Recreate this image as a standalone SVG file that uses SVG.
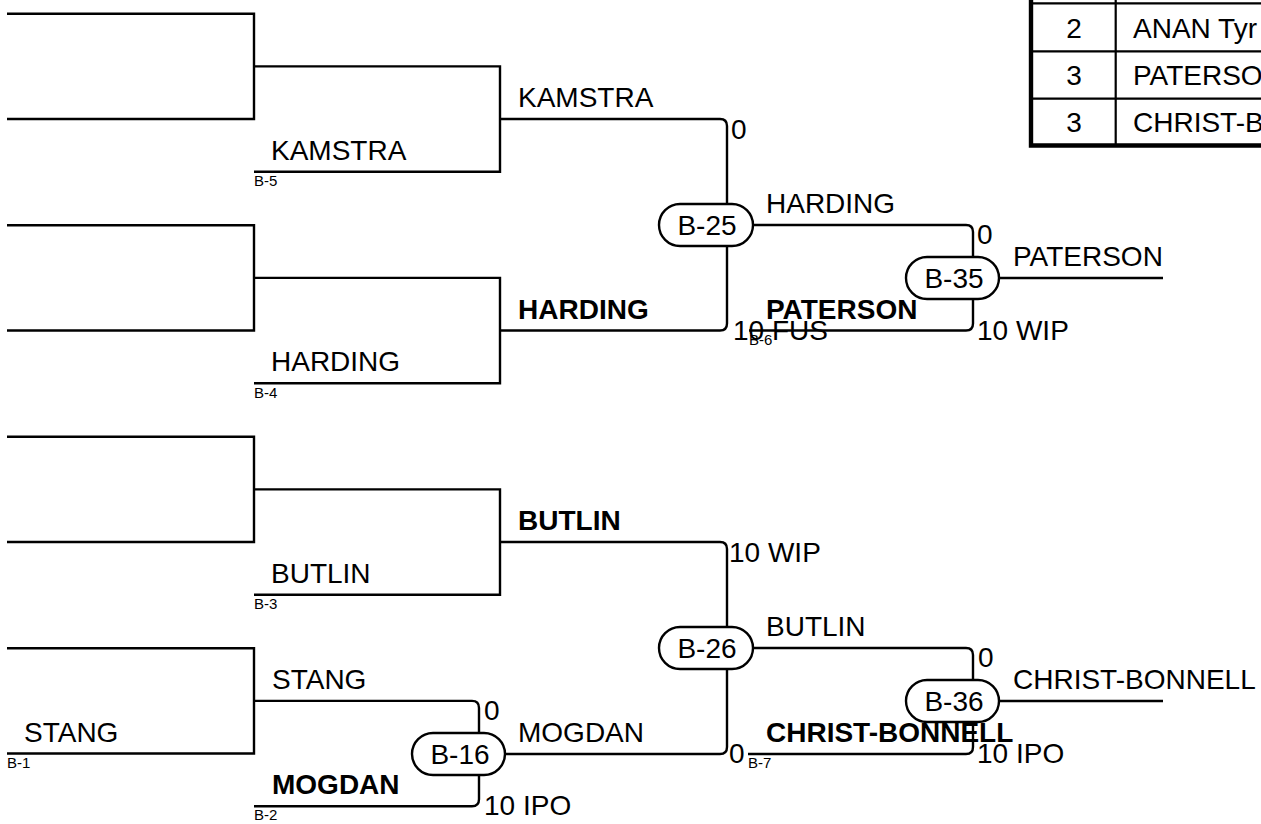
<svg xmlns="http://www.w3.org/2000/svg" width="1261" height="824" viewBox="0 0 1261 824">
<style>
.ln{fill:none;stroke:#000;stroke-width:2.4}
.box{fill:#fff;stroke:#000;stroke-width:2.4}
text{font-family:"Liberation Sans",Arial,sans-serif;fill:#000}
.t{font-size:28px}
.b{font-size:28px;font-weight:bold}
.s{font-size:15px}
.bx{font-size:28px;text-anchor:middle}
.tb{fill:none;stroke:#000;stroke-width:2.2}
.tk{fill:none;stroke:#000;stroke-width:4.4}
</style>
<rect width="1261" height="824" fill="#fff"/>
<g id="connectors">
  <path class="ln" d="M7,13.7 H254 V119 H7 M254,66.4 H500 V171.7 H254"/>
  <path class="ln" d="M7,225.2 H254 V330.5 H7 M254,277.9 H500 V383.2 H254"/>
  <path class="ln" d="M7,436.7 H254 V542 H7 M254,489.4 H500 V594.7 H254"/>
  <path class="ln" d="M7,648.2 H254 V753.5 H7"/>
  <path class="ln" d="M254,700.9 H472 Q479,700.9 479,707.9 V733"/>
  <path class="ln" d="M479,775 V799.2 Q479,806.2 472,806.2 H254"/>
  <path class="ln" d="M505,754 H720 Q727,754 727,747 V669"/>
  <path class="ln" d="M500,119 H720 Q727,119 727,126 V204"/>
  <path class="ln" d="M727,246 V323.5 Q727,330.5 720,330.5 H500"/>
  <path class="ln" d="M500,542 H720 Q727,542 727,549 V627"/>
  <path class="ln" d="M753,225 H966 Q973,225 973,232 V257"/>
  <path class="ln" d="M973,299 V323.5 Q973,330.5 966,330.5 H749"/>
  <path class="ln" d="M999,278 H1163"/>
  <path class="ln" d="M753,648 H966 Q973,648 973,655 V680"/>
  <path class="ln" d="M973,722 V747 Q973,754 966,754 H748"/>
  <path class="ln" d="M999,701 H1163"/>
</g>
<g id="B-16"><rect class="box" x="412" y="733" width="93" height="42" rx="21"/><text class="bx" x="460" y="764">B-16</text></g>
<g id="B-25"><rect class="box" x="659" y="204" width="94" height="42" rx="21"/><text class="bx" x="707" y="235">B-25</text></g>
<g id="B-26"><rect class="box" x="659" y="627" width="94" height="42" rx="21"/><text class="bx" x="707" y="658">B-26</text></g>
<g id="B-35"><rect class="box" x="906" y="257" width="93" height="42" rx="21"/><text class="bx" x="954" y="288">B-35</text></g>
<g id="B-36"><rect class="box" x="906" y="680" width="93" height="42" rx="21"/><text class="bx" x="954" y="711">B-36</text></g>
<g id="names">
  <text class="t" x="271" y="160">KAMSTRA</text>
  <text class="t" x="271" y="371">HARDING</text>
  <text class="t" x="271" y="583">BUTLIN</text>
  <text class="t" x="24" y="742">STANG</text>
  <text class="t" x="272" y="689">STANG</text>
  <text class="b" x="272" y="794">MOGDAN</text>
  <text class="t" x="518" y="107">KAMSTRA</text>
  <text class="b" x="518" y="319">HARDING</text>
  <text class="b" x="518" y="530">BUTLIN</text>
  <text class="t" x="518" y="742">MOGDAN</text>
  <text class="t" x="766" y="213">HARDING</text>
  <text class="b" x="766" y="319">PATERSON</text>
  <text class="t" x="766" y="636">BUTLIN</text>
  <text class="b" x="766" y="742">CHRIST-BONNELL</text>
  <text class="t" x="1013" y="266">PATERSON</text>
  <text class="t" x="1013" y="689">CHRIST-BONNELL</text>
</g>
<g id="scores">
  <text class="t" x="731" y="139">0</text>
  <text class="t" x="733" y="340">10 FUS</text>
  <text class="t" x="977" y="244">0</text>
  <text class="t" x="977" y="340">10 WIP</text>
  <text class="t" x="729" y="562">10 WIP</text>
  <text class="t" x="729" y="763">0</text>
  <text class="t" x="978" y="667">0</text>
  <text class="t" x="977" y="763">10 IPO</text>
  <text class="t" x="484" y="720">0</text>
  <text class="t" x="484" y="815">10 IPO</text>
</g>
<g id="labels">
  <text class="s" x="254" y="186">B-5</text>
  <text class="s" x="254" y="398">B-4</text>
  <text class="s" x="254" y="609">B-3</text>
  <text class="s" x="7" y="768">B-1</text>
  <text class="s" x="254" y="820">B-2</text>
  <text class="s" x="749" y="345">B-6</text>
  <text class="s" x="748" y="768">B-7</text>
</g>
<g id="table">
  <path class="tb" d="M1031,3.3 H1265 M1031,51.3 H1265 M1031,98.7 H1265 M1115.7,0 V145.5"/>
  <path class="tk" d="M1031,0 V147.7 M1028.8,145.5 H1265"/>
  <text class="bx" x="1074" y="37.5">2</text>
  <text class="bx" x="1074" y="85">3</text>
  <text class="bx" x="1074" y="132">3</text>
  <text class="t" x="1133" y="37.5">ANAN Tyr</text>
  <text class="t" x="1133" y="85">PATERSON</text>
  <text class="t" x="1133" y="132">CHRIST-BONNELL</text>
</g>
</svg>
